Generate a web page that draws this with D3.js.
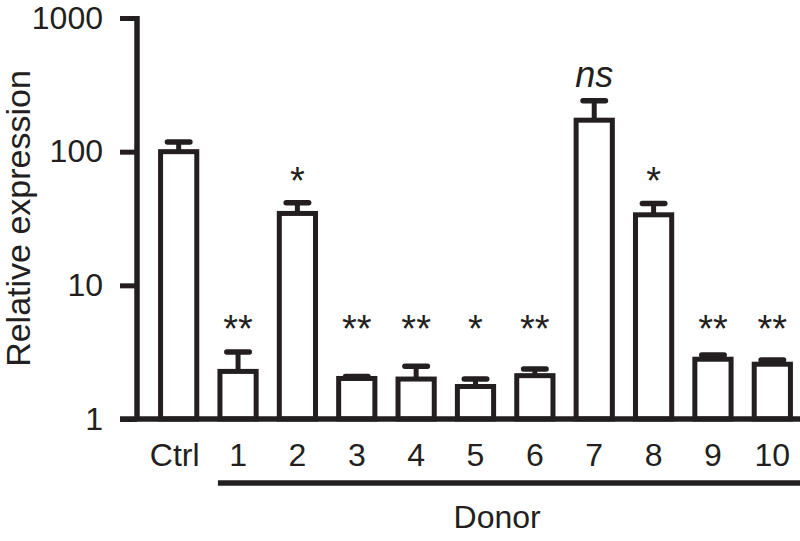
<!DOCTYPE html>
<html>
<head>
<meta charset="utf-8">
<script src="https://cdn.jsdelivr.net/npm/d3@7"></script>
<style>
  html, body { margin: 0; padding: 0; background: #fff; }
  svg { display: block; font-family: "Liberation Sans", Arial, Helvetica, sans-serif; }
</style>
</head>
<body>
<svg id="chart" width="800" height="541"></svg>
<script>
// ---- data ----
const categories = ["Ctrl", "1", "2", "3", "4", "5", "6", "7", "8", "9", "10"];
const means      = [100, 2.27, 34.5, 2.01, 1.99, 1.75, 2.11, 172, 33.7, 2.80, 2.57];
const errUpper   = [118, 3.17, 41.4, 2.08, 2.48, 1.99, 2.37, 240, 41.0, 3.01, 2.76];
const signif     = ["", "**", "*", "**", "**", "*", "**", "ns", "*", "**", "**"];
const yTicks     = [1, 10, 100, 1000];
const yTitle     = "Relative expression";
const groupLabel = "Donor";
const groupMembers = ["1", "2", "3", "4", "5", "6", "7", "8", "9", "10"];

// ---- setup ----
const W = 800, H = 541;
const ink = "#231f20";
const svg = d3.select("#chart");

const y = d3.scaleLog().domain([1, 1000]).range([419, 18]);
const x = d3.scaleBand().domain(categories).range([149, 802])
  .paddingInner(0.39).paddingOuter(0.195);

const axisX = 137;

// y axis
const yAxis = d3.axisLeft(y).tickValues(yTicks).tickFormat(d3.format("d"))
  .tickSize(17).tickSizeOuter(0).tickPadding(17);
const gy = svg.append("g").attr("transform", `translate(${axisX},0)`).call(yAxis);
gy.select(".domain").attr("stroke", ink).attr("stroke-width", 5.5)
  .attr("d", `M0,${y(1000) - 2}V${y(1) + 2}`);
gy.selectAll(".tick line").attr("stroke", ink).attr("stroke-width", 5);
gy.selectAll(".tick text").attr("fill", ink).attr("font-size", 32)
  .attr("font-family", "Liberation Sans, Arial, sans-serif");

// y title
svg.append("text")
  .attr("transform", `translate(30,${(y(1) + y(1000)) / 2}) rotate(-90)`)
  .attr("text-anchor", "middle")
  .attr("font-size", 34)
  .attr("fill", ink)
  .text(yTitle);

// bars
const data = categories.map((c, i) => ({ c, m: means[i], e: errUpper[i], s: signif[i] }));
const bw = x.bandwidth();

// error bars (drawn first so the bar top overlays)
const eg = svg.append("g");
eg.selectAll("line.v").data(data).join("line")
  .attr("x1", d => x(d.c) + bw / 2).attr("x2", d => x(d.c) + bw / 2)
  .attr("y1", d => y(d.m)).attr("y2", d => y(d.e))
  .attr("stroke", ink).attr("stroke-width", 5);
eg.selectAll("line.cap").data(data).join("line")
  .attr("x1", d => x(d.c) + bw / 2 - bw * 0.31)
  .attr("x2", d => x(d.c) + bw / 2 + bw * 0.31)
  .attr("y1", d => y(d.e)).attr("y2", d => y(d.e))
  .attr("stroke", ink).attr("stroke-width", 5.5).attr("stroke-linecap", "round");

svg.append("g").selectAll("rect").data(data).join("rect")
  .attr("x", d => x(d.c)).attr("width", bw)
  .attr("y", d => y(d.m)).attr("height", d => y(1) - y(d.m))
  .attr("fill", "#fff").attr("stroke", ink).attr("stroke-width", 5);

// x baseline
svg.append("line").attr("x1", 120).attr("x2", W)
  .attr("y1", y(1)).attr("y2", y(1))
  .attr("stroke", ink).attr("stroke-width", 5.5);

// x labels
const xAxis = d3.axisBottom(x).tickSize(0).tickPadding(24);
const gx = svg.append("g").attr("transform", `translate(0,${y(1)})`).call(xAxis);
gx.select(".domain").remove();
gx.selectAll(".tick text").attr("fill", ink).attr("font-size", 32)
  .attr("font-family", "Liberation Sans, Arial, sans-serif");
gx.selectAll(".tick").filter(d => d === "Ctrl").select("text").attr("dx", -4);

// significance annotations
const starFloor = y(3.2);
svg.append("g").selectAll("text").data(data.filter(d => d.s && d.s !== "ns")).join("text")
  .attr("x", d => x(d.c) + bw / 2)
  .attr("y", d => Math.min(y(d.e), starFloor) - 9)
  .attr("text-anchor", "middle")
  .attr("font-size", 38)
  .attr("fill", ink)
  .text(d => d.s);
svg.append("g").selectAll("text").data(data.filter(d => d.s === "ns")).join("text")
  .attr("x", d => x(d.c) + bw / 2)
  .attr("y", d => y(d.e) - 14)
  .attr("text-anchor", "middle")
  .attr("font-size", 36)
  .attr("font-style", "italic")
  .attr("fill", ink)
  .text(d => d.s);

// group bracket
const gStart = x(groupMembers[0]) - 2;
svg.append("line").attr("x1", gStart).attr("x2", W)
  .attr("y1", 483).attr("y2", 483)
  .attr("stroke", ink).attr("stroke-width", 5.5);
svg.append("text")
  .attr("x", (x(groupMembers[0]) + x(groupMembers[groupMembers.length - 1]) + bw) / 2 - 8)
  .attr("y", 528)
  .attr("text-anchor", "middle")
  .attr("font-size", 32)
  .attr("fill", ink)
  .text(groupLabel);
</script>
</body>
</html>
